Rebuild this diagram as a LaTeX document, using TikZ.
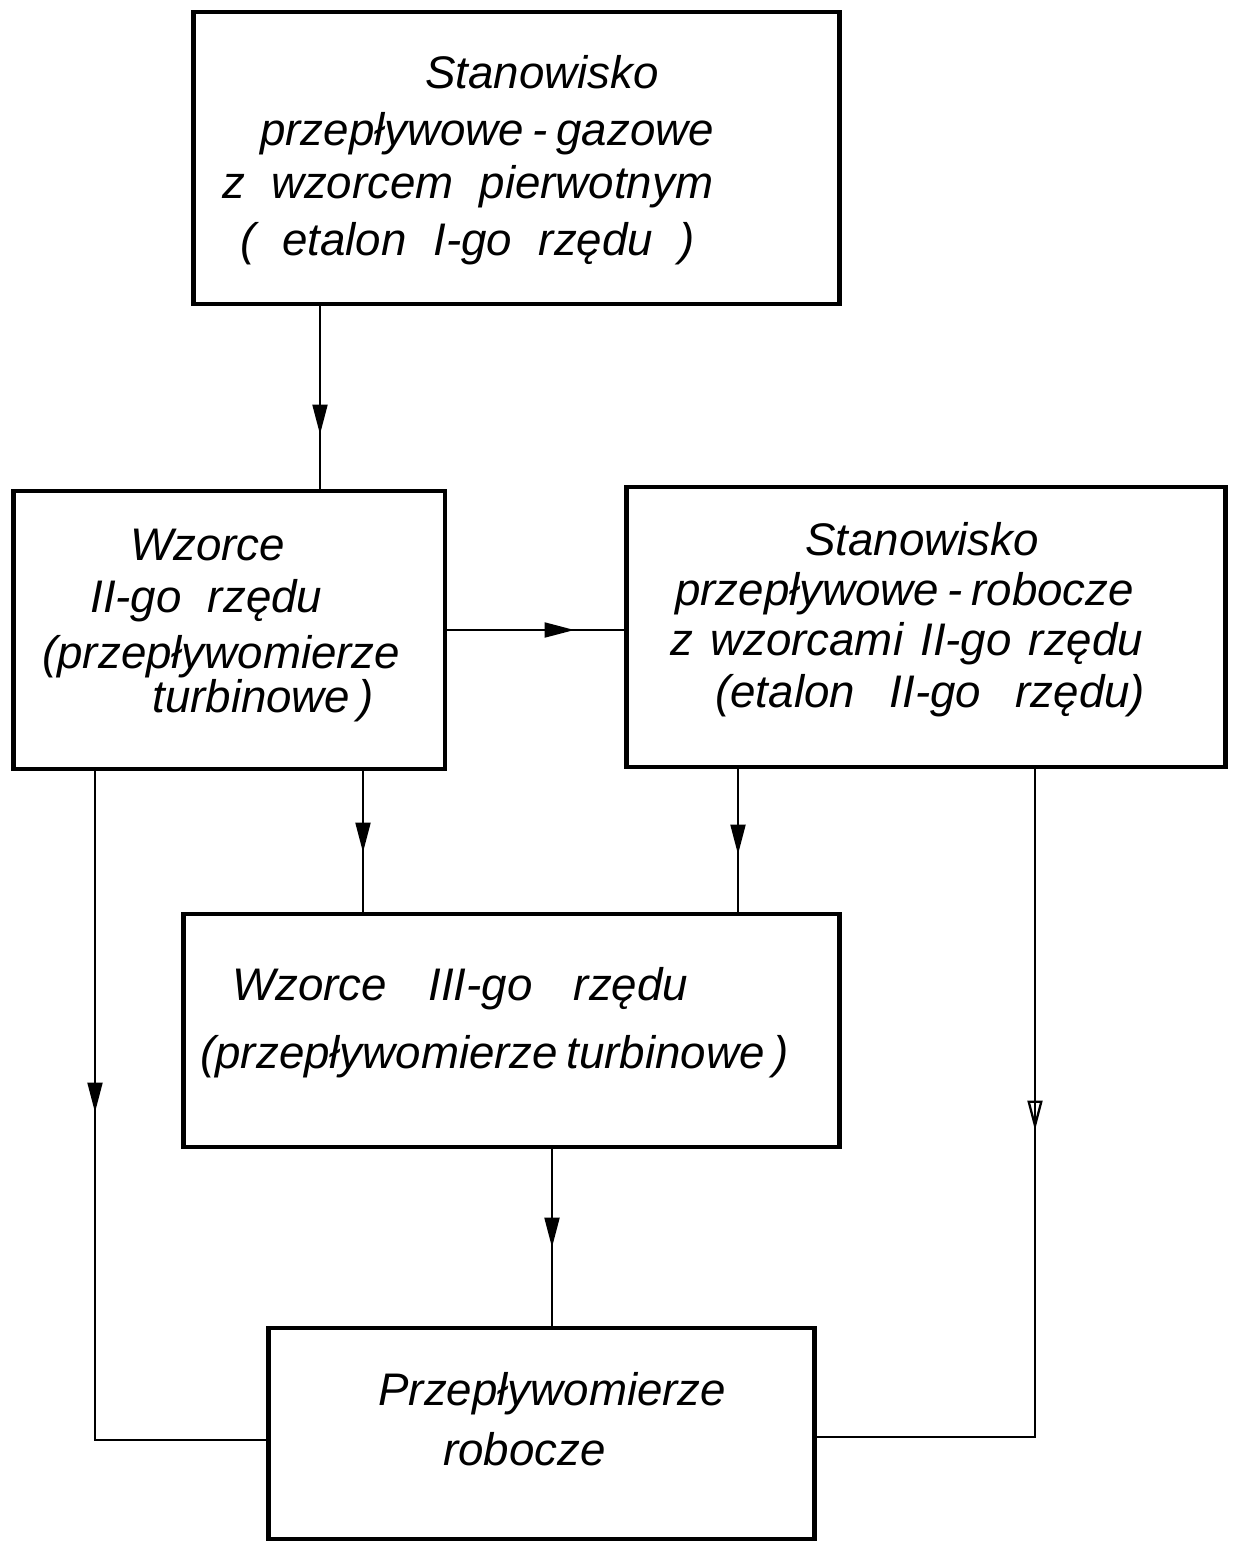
\documentclass[tikz,border=0pt]{standalone}
\usepackage{fontspec}
\setmainfont{Liberation Sans}
\usetikzlibrary{arrows.meta,decorations.markings}
\newcommand\tline[5]{\node[txt] (#1) at (#2,#4) {\makebox[\dimexpr(#3pt-#2pt)*569/1000\relax][s]{#5}};}
\tikzset{
  box/.style={draw, line width=2.8pt, inner sep=0pt},
  conn/.style={line width=1.3pt},
  txt/.style={anchor=base west, inner sep=0pt, font=\fontsize{26}{30}\selectfont\itshape},
  headat/.style={postaction={decorate,decoration={markings,mark=at position #1 with {\arrow{Triangle[length=17pt,width=8.5pt]}}}}},
  openheadat/.style={postaction={decorate,decoration={markings,mark=at position #1 with {\arrow[line width=1.3pt]{Triangle[open,length=17pt,width=8.5pt]}}}}}
}
\begin{document}
\begin{tikzpicture}[x=0.02cm,y=-0.02cm]
\useasboundingbox[fill=white] (0,0) rectangle (1234,1542);
% boxes
\node[box, minimum width=12.94cm, minimum height=5.84cm] (A) at (516.5,158) {};
\node[box, minimum width=8.64cm, minimum height=5.56cm] (B) at (229,630) {};
\node[box, minimum width=12cm, minimum height=5.6cm] (C) at (926,627) {};
\node[box, minimum width=13.14cm, minimum height=4.66cm] (D) at (511.5,1030.5) {};
\node[box, minimum width=10.94cm, minimum height=4.22cm] (E) at (541.5,1433.5) {};
% texts
\tline{A1}{425}{662}{88}{Stanowisko}
\tline{A2}{260}{712}{145}{przepływowe - gazowe}
\tline{A3}{222}{713}{198}{z wzorcem pierwotnym}
\tline{A4}{240}{695}{255}{( etalon I-go rzędu )}
\tline{B1}{130}{278}{560}{Wzorce}
\tline{B2}{90}{322}{612}{II-go rzędu}
\tline{B3}{42}{397}{668}{(przepływomierze}
\tline{B4}{152}{372}{712}{turbinowe )}
\tline{C1}{805}{1053}{555}{Stanowisko}
\tline{C2}{675}{1113}{605}{przepływowe - robocze}
\tline{C3}{670}{1143}{655}{z wzorcami II-go rzędu}
\tline{C4}{715}{1145}{707}{(etalon II-go rzędu)}
\tline{D1}{232}{688}{1000}{Wzorce III-go rzędu}
\tline{D2}{200}{780}{1068}{(przepływomierze turbinowe )}
\tline{E1}{378}{737}{1405}{Przepływomierze}
\tline{E2}{443}{598}{1465}{robocze}
% column / row coordinates
\coordinate (cAB) at (320,0);
\coordinate (cBD) at (363,0);
\coordinate (cCD) at (738,0);
\coordinate (cDE) at (552,0);
\coordinate (cL) at (95,0);
\coordinate (cR) at (1035,0);
\coordinate (rL) at (0,1440);
\coordinate (rR) at (0,1437);
% connectors
\draw[conn, headat=2.56cm] (A.south -| cAB) -- (B.north -| cAB);
\draw[conn, headat=2.54cm] (B.east) -- (B.east -| C.west);
\draw[conn, headat=1.62cm] (B.south -| cBD) -- (D.north -| cBD);
\draw[conn, headat=1.70cm] (C.south -| cCD) -- (D.north -| cCD);
\draw[conn, headat=1.96cm] (D.south -| cDE) -- (E.north -| cDE);
\draw[conn, headat=6.82cm] (B.south -| cL) -- (cL |- rL) -- (E.west |- rL);
\draw[conn, openheadat=7.22cm] (C.south -| cR) -- (cR |- rR) -- (E.east |- rR);
\end{tikzpicture}
\end{document}
